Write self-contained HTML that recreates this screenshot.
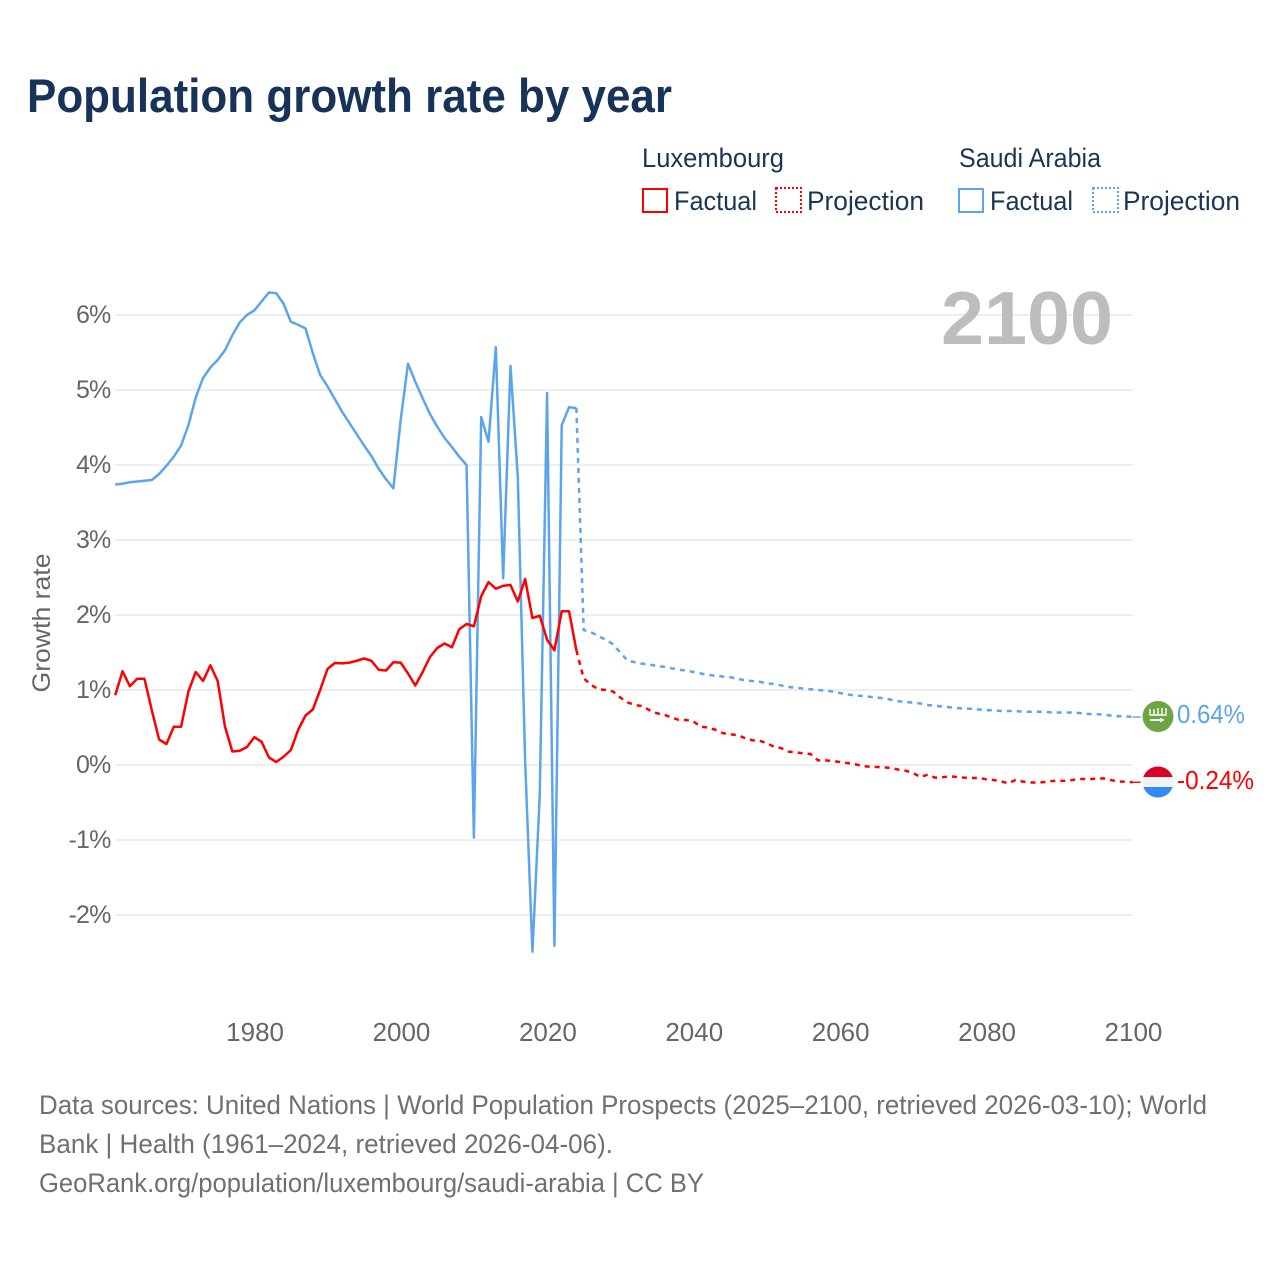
<!DOCTYPE html>
<html lang="en">
<head>
<meta charset="utf-8">
<title>Population growth rate by year</title>
<style>
html,body{margin:0;padding:0;background:#fff;}
body{width:1280px;height:1280px;overflow:hidden;}
svg{display:block;font-family:"Liberation Sans",sans-serif;}
</style>
</head>
<body>
<svg id="chart" xmlns="http://www.w3.org/2000/svg" width="1280" height="1280" viewBox="0 0 1280 1280">
  <text x="27" y="112" font-size="47" font-weight="700" fill="#17335a" textLength="645" lengthAdjust="spacingAndGlyphs">Population growth rate by year</text>

  <g fill="#1a3555" font-size="27">
    <text x="642" y="167" textLength="142" lengthAdjust="spacingAndGlyphs">Luxembourg</text>
    <text x="959" y="167" textLength="142" lengthAdjust="spacingAndGlyphs">Saudi Arabia</text>

    <rect x="643" y="189" width="24" height="23" fill="none" stroke="#ff0000" stroke-width="2"/>
    <text x="674" y="210" textLength="83" lengthAdjust="spacingAndGlyphs">Factual</text>
    <rect x="776" y="188" width="25" height="24" fill="none" stroke="#ff0000" stroke-width="2" stroke-dasharray="2 2"/>
    <text x="807" y="210" textLength="117" lengthAdjust="spacingAndGlyphs">Projection</text>

    <rect x="959" y="189" width="24" height="23" fill="none" stroke="#5ca5ec" stroke-width="2"/>
    <text x="990" y="210" textLength="83" lengthAdjust="spacingAndGlyphs">Factual</text>
    <rect x="1093" y="188" width="25" height="24" fill="none" stroke="#5ca5ec" stroke-width="2" stroke-dasharray="2 2"/>
    <text x="1123" y="210" textLength="117" lengthAdjust="spacingAndGlyphs">Projection</text>
  </g>

  <g id="grid"></g>
  <g id="y-ticks"></g>
  <g id="x-ticks"></g>

  <text transform="translate(50,623) rotate(-90)" text-anchor="middle" font-size="25" fill="#666666" textLength="139" lengthAdjust="spacingAndGlyphs">Growth rate</text>

  <text x="941" y="344" font-size="75" font-weight="700" fill="#bdbdbd" textLength="172" lengthAdjust="spacingAndGlyphs">2100</text>

  <g id="series" fill="none" stroke-linejoin="round"></g>

  <g>
    <circle cx="1158" cy="716.5" r="15.5" fill="#6da544"/>
    <g stroke="#ffffff" fill="none" stroke-width="1.4">
      <path d="M1150 709v6h14M1154 709v6M1158 708v7M1162 708v7M1166 708v7h-3"/>
      <path d="M1150 720h14M1161 718v4" stroke-width="1.8"/>
    </g>
  </g>
  <text id="label-saudi" x="1177" y="723" font-size="26" fill="#5ca5ec" textLength="68" lengthAdjust="spacingAndGlyphs">0.64%</text>

  <g>
    <clipPath id="lux-clip"><circle cx="1158" cy="782" r="15.5"/></clipPath>
    <g clip-path="url(#lux-clip)">
      <rect x="1142" y="766" width="32" height="11" fill="#d80027"/>
      <rect x="1142" y="777" width="32" height="10" fill="#f2f2f2"/>
      <rect x="1142" y="787" width="32" height="11" fill="#338af3"/>
    </g>
  </g>
  <text id="label-lux" x="1177" y="789" font-size="26" fill="#ff0000" textLength="77" lengthAdjust="spacingAndGlyphs">-0.24%</text>

  <g fill="#707070" font-size="27">
    <text x="39" y="1114" textLength="1168" lengthAdjust="spacingAndGlyphs">Data sources: United Nations | World Population Prospects (2025–2100, retrieved 2026-03-10); World</text>
    <text x="39" y="1153" textLength="574" lengthAdjust="spacingAndGlyphs">Bank | Health (1961–2024, retrieved 2026-04-06).</text>
    <text x="39" y="1192" textLength="665" lengthAdjust="spacingAndGlyphs">GeoRank.org/population/luxembourg/saudi-arabia | CC BY</text>
  </g>
</svg>

<script>
const firstYear = 1961;
const projectionFirstYear = 2024;
const yTickValues = [6, 5, 4, 3, 2, 1, 0, -1, -2];
const xTickYears = [1980, 2000, 2020, 2040, 2060, 2080, 2100];

const saudiFactual = [
  3.74, 3.75, 3.77, 3.78, 3.79, 3.80, 3.88, 3.99, 4.11, 4.26,
  4.53, 4.90, 5.16, 5.30, 5.40, 5.53, 5.73, 5.90, 6.00, 6.06,
  6.18, 6.30, 6.29, 6.15, 5.91, 5.87, 5.82, 5.49, 5.20, 5.05,
  4.88, 4.71, 4.56, 4.41, 4.26, 4.12, 3.95, 3.81, 3.69, 4.60,
  5.35, 5.11, 4.89, 4.68, 4.51, 4.36, 4.24, 4.11, 4.00, -0.97,
  4.64, 4.31, 5.57, 2.49, 5.32, 3.84, 0.06, -2.49, -0.40, 4.96,
  -2.41, 4.53, 4.77, 4.76
];
const saudiProjection = [
  4.76, 1.80, 1.77, 1.72, 1.67, 1.61, 1.50, 1.39, 1.37, 1.35,
  1.34, 1.32, 1.31, 1.29, 1.27, 1.26, 1.24, 1.22, 1.20, 1.19,
  1.18, 1.17, 1.15, 1.13, 1.12, 1.11, 1.09, 1.08, 1.06, 1.04,
  1.03, 1.02, 1.01, 1.00, 0.99, 0.98, 0.96, 0.94, 0.93, 0.92,
  0.91, 0.90, 0.89, 0.87, 0.85, 0.84, 0.83, 0.82, 0.80, 0.79,
  0.78, 0.77, 0.76, 0.75, 0.75, 0.74, 0.73, 0.73, 0.72, 0.72,
  0.72, 0.71, 0.71, 0.71, 0.71, 0.70, 0.70, 0.70, 0.70, 0.69,
  0.68, 0.68, 0.67, 0.66, 0.65, 0.65, 0.64
];
const luxembourgFactual = [
  0.93, 1.25, 1.05, 1.15, 1.15, 0.73, 0.34, 0.28, 0.51, 0.51,
  0.98, 1.24, 1.12, 1.33, 1.12, 0.51, 0.18, 0.19, 0.24, 0.37,
  0.31, 0.10, 0.04, 0.11, 0.20, 0.47, 0.66, 0.74, 1.00, 1.28,
  1.36, 1.355, 1.365, 1.39, 1.42, 1.39, 1.27, 1.26, 1.37, 1.365,
  1.22, 1.06, 1.24, 1.44, 1.56, 1.62, 1.57, 1.81, 1.88, 1.85,
  2.25, 2.44, 2.35, 2.39, 2.40, 2.18, 2.48, 1.96, 1.99, 1.67,
  1.53, 2.05, 2.05, 1.53
];
const luxembourgProjection = [
  1.53, 1.155, 1.07, 1.01, 1.00, 0.98, 0.90, 0.835, 0.80, 0.785,
  0.73, 0.69, 0.67, 0.635, 0.60, 0.60, 0.58, 0.51, 0.50, 0.47,
  0.425, 0.41, 0.40, 0.36, 0.33, 0.325, 0.29, 0.245, 0.225, 0.178,
  0.169, 0.156, 0.147, 0.062, 0.062, 0.053, 0.04, 0.027, 0.013, -0.013,
  -0.022, -0.027, -0.031, -0.04, -0.062, -0.076, -0.107, -0.16, -0.129, -0.169,
  -0.164, -0.151, -0.16, -0.169, -0.173, -0.173, -0.191, -0.2, -0.218, -0.244,
  -0.2, -0.222, -0.231, -0.236, -0.227, -0.213, -0.209, -0.213, -0.196, -0.187,
  -0.187, -0.182, -0.178, -0.2, -0.222, -0.222, -0.23
];

const SVG_NS = "http://www.w3.org/2000/svg";
const xScale = function (year) { return 115.2 + (year - 1961) * 7.32; };
const yScale = function (value) { return 765 - value * 75; };

const gridGroup = document.getElementById("grid");
const yTickGroup = document.getElementById("y-ticks");
const xTickGroup = document.getElementById("x-ticks");
const seriesGroup = document.getElementById("series");

yTickValues.forEach(function (value) {
  const line = document.createElementNS(SVG_NS, "line");
  line.setAttribute("x1", 115);
  line.setAttribute("x2", 1133);
  line.setAttribute("y1", yScale(value));
  line.setAttribute("y2", yScale(value));
  line.setAttribute("stroke", "#eeeeee");
  line.setAttribute("stroke-width", 2);
  
  
  gridGroup.appendChild(line);

  const label = document.createElementNS(SVG_NS, "text");
  label.setAttribute("x", 110.5);
  label.setAttribute("y", yScale(value) + 8);
  label.setAttribute("text-anchor", "end");
  label.setAttribute("font-size", 25);
  label.setAttribute("letter-spacing", "-0.8");
  label.setAttribute("fill", "#666666");
  label.textContent = value + "%";
  
  
  yTickGroup.appendChild(label);
});

xTickYears.forEach(function (year) {
  const label = document.createElementNS(SVG_NS, "text");
  label.setAttribute("x", xScale(year) + 0.8);
  label.setAttribute("y", 1041);
  label.setAttribute("text-anchor", "middle");
  label.setAttribute("font-size", 26);
  label.setAttribute("fill", "#666666");
  label.textContent = String(year);
  
  
  xTickGroup.appendChild(label);
});

function buildPath(values, startYear) {
  return values.map(function (value, i) {
    return (i === 0 ? "M" : "L") + xScale(startYear + i).toFixed(2) + " " + yScale(value).toFixed(2);
  }).join(" ");
}

function appendPath(d, colour, dash, width) {
  const path = document.createElementNS(SVG_NS, "path");
  path.setAttribute("d", d);
  path.setAttribute("stroke", colour);
  path.setAttribute("stroke-width", width);
  if (dash) {
    path.setAttribute("stroke-dasharray", dash);
  }
  seriesGroup.appendChild(path);
  return path;
}

const saudiProjectionLine = appendPath(buildPath(saudiProjection, projectionFirstYear), "#5ca5ec", "5 5", 2.5);



const saudiFactualLine = appendPath(buildPath(saudiFactual, firstYear), "#5ca5ec", null, 2.5);



const luxProjectionLine = appendPath(buildPath(luxembourgProjection, projectionFirstYear), "#ff0000", "5 5", 2.5);



const luxFactualLine = appendPath(buildPath(luxembourgFactual, firstYear), "#ff0000", null, 2.5);



const saudiLast = saudiProjection[saudiProjection.length - 1];
const luxLast = luxembourgProjection[luxembourgProjection.length - 1];
const endX = xScale(2100);

const saudiConnector = appendPath("M" + endX + " " + yScale(saudiLast) + " h8", "#5ca5ec", null, 1.4);



const luxConnector = appendPath("M" + endX + " " + yScale(luxLast) + " h8", "#ff0000", null, 1.4);


</script>
</body>
</html>
